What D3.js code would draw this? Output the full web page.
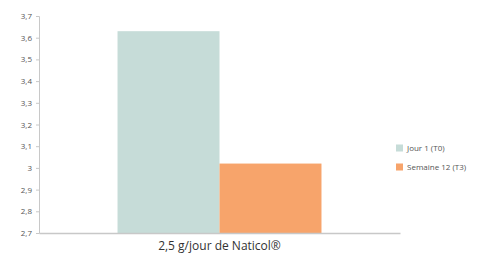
<!DOCTYPE html>
<html><head><meta charset="utf-8">
<script src="https://cdn.jsdelivr.net/npm/d3@7"></script>
<style>body{margin:0;background:#fff}svg{display:block}</style>
</head><body>
<svg id="c" width="495" height="259"></svg>
<script>
const categories = ["2,5 g/jour de Naticol®"];
const seriesNames = ["Jour 1 (T0)", "Semaine 12 (T3)"];
const seriesValues = [3.63, 3.02];
const seriesColors = ["#c6dcd8", "#f7a46b"];
const yTicks = [2.7, 2.8, 2.9, 3.0, 3.1, 3.2, 3.3, 3.4, 3.5, 3.6, 3.7];

const svg = d3.select("#c");
const m = {left: 39, right: 400, top: 16, bottom: 233};
const y = d3.scaleLinear().domain([2.7, 3.7]).range([m.bottom, m.top]);
const x0 = d3.scaleBand().domain(categories).range([m.left, m.right]).paddingInner(0).paddingOuter(0.385);
const x1 = d3.scaleBand().domain(seriesNames).range([0, x0.bandwidth()]).padding(0);

const fmt = d => d3.format(".1f")(d).replace(".", ",").replace(",0", "");

// bars
const g = svg.append("g");
categories.forEach(c => {
  seriesNames.forEach((s, i) => {
    g.append("rect")
      .attr("x", x0(c) + x1(s))
      .attr("y", y(seriesValues[i]))
      .attr("width", x1.bandwidth())
      .attr("height", y(2.7) - y(seriesValues[i]))
      .attr("fill", seriesColors[i]);
  });
});

// y axis
const ya = svg.append("g").attr("transform", `translate(${m.left},0)`)
  .call(d3.axisLeft(y).tickValues(yTicks).tickFormat(fmt).tickSize(3).tickPadding(4));
ya.select(".domain").attr("stroke", "#c8c8c8");
ya.selectAll(".tick line").attr("stroke", "#c8c8c8");
ya.selectAll("text").attr("fill", "#555").style("font-family", "'Open Sans', sans-serif").style("font-size", "8px");

// x axis
const xa = svg.append("g").attr("transform", `translate(0,${m.bottom})`)
  .call(d3.axisBottom(x0).tickSize(0).tickPadding(8));
xa.select(".domain").attr("stroke", "#c8c8c8").attr("stroke-width", 1.5);
xa.selectAll("text").attr("fill", "#333").style("font-family", "'Open Sans', sans-serif").style("font-size", "12px");

// legend
const lg = svg.append("g");
seriesNames.forEach((s, i) => {
  const ly = 148 + i * 19;
  lg.append("rect").attr("x", 396).attr("y", ly - 3.5).attr("width", 7).attr("height", 7).attr("fill", seriesColors[i]);
  lg.append("text").attr("x", 407).attr("y", ly).attr("dy", "0.35em")
    .attr("fill", "#555").style("font-family", "'Open Sans', sans-serif").style("font-size", "8px").text(s);
});
</script>
</body></html>
